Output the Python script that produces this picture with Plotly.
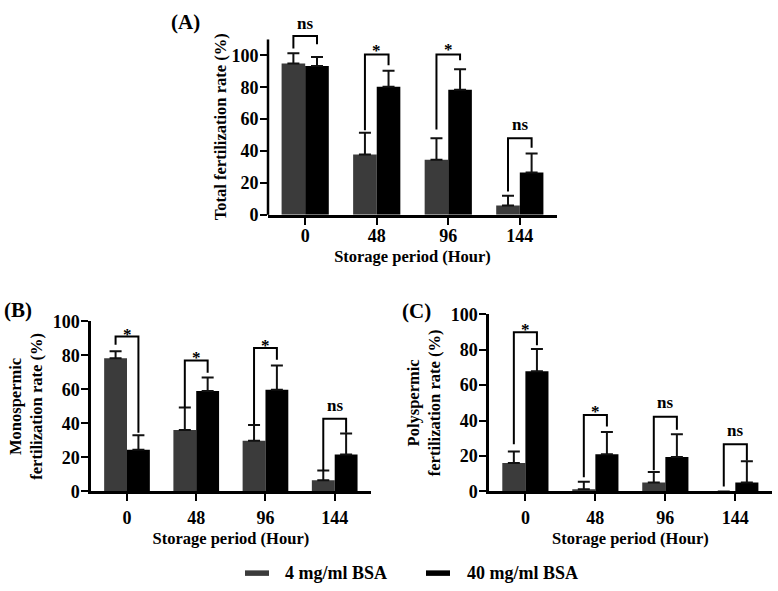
import plotly.graph_objects as go

# ---------------- data ----------------
hours = ["0", "48", "96", "144"]
series_names = ["4 mg/ml BSA", "40 mg/ml BSA"]

A_low_mean = [94.9, 37.8, 34.5, 5.9]
A_low_err = [6.5, 13.7, 13.6, 6.0]
A_high_mean = [93.3, 80.4, 78.4, 26.5]
A_high_err = [5.7, 9.9, 12.9, 11.9]

B_low_mean = [78.3, 36.2, 29.8, 6.6]
B_low_err = [4.2, 13.2, 9.2, 5.7]
B_high_mean = [24.5, 59.1, 59.8, 21.7]
B_high_err = [8.5, 7.9, 14.2, 12.3]

C_low_mean = [16.1, 1.3, 5.0, 0.0]
C_low_err = [6.5, 4.2, 6.0, 0.0]
C_high_mean = [67.9, 21.0, 19.5, 5.1]
C_high_err = [12.5, 12.5, 12.8, 12.0]

# significance brackets: label, left-leg bottom, top, right-leg bottom, label centre
A_sig = ["ns", "*", "*", "ns"]
A_br_left = [104.4, 53.1, 53.5, 14.7]
A_br_top = [112.1, 100.6, 100.6, 48.1]
A_br_right = [107.0, 93.9, 97.0, 42.0]
A_lab_y = [119.5, 106.5, 107.0, 56.2]

B_sig = ["*", "*", "*", "ns"]
B_br_left = [86.2, 49.4, 39.5, 12.3]
B_br_top = [91.1, 77.0, 84.3, 42.8]
B_br_right = [34.5, 69.8, 77.4, 34.5]
B_lab_y = [95.3, 81.7, 88.7, 50.0]

C_sig = ["*", "*", "ns", "ns"]
C_br_left = [26.6, 8.0, 11.9, 2.8]
C_br_top = [89.9, 43.1, 42.2, 26.6]
C_br_right = [82.6, 36.7, 34.9, 17.4]
C_lab_y = [94.5, 47.7, 49.5, 33.9]

yticks = [0, 20, 40, 60, 80, 100]

# ---------------- style ----------------
W, H = 778, 591
FONT = "Liberation Serif, Times New Roman, serif"
GREY = "#3b3b3b"
BLACK = "#000000"
BARGAP = 0.34
OFF = (1 - BARGAP) / 4  # centre offset of each bar within its group
pos = list(range(len(hours)))


def clamp(v):
    return max(0.0, min(1.0, v))


def px_x(p):
    return clamp(p / W)


def px_y(p):
    return clamp(1 - p / H)


A_YMAX = 122
panels = {
    "A": dict(xa="x", ya="y", xdom=[px_x(268), px_x(557)], ydom=[px_y(212), px_y(212 - A_YMAX * 1.65)],
              yr=[0, A_YMAX], axis_top=110,
              low=(A_low_mean, A_low_err), high=(A_high_mean, A_high_err),
              sig=(A_sig, A_br_left, A_br_top, A_br_right, A_lab_y)),
    "B": dict(xa="x2", ya="y2", xdom=[px_x(91), px_x(370.7)], ydom=[px_y(498.3), px_y(322.3)],
              yr=[0, 100], axis_top=None,
              low=(B_low_mean, B_low_err), high=(B_high_mean, B_high_err),
              sig=(B_sig, B_br_left, B_br_top, B_br_right, B_lab_y)),
    "C": dict(xa="x3", ya="y3", xdom=[px_x(489), px_x(771.7)], ydom=[px_y(498.3), px_y(315)],
              yr=[0, 100], axis_top=None,
              low=(C_low_mean, C_low_err), high=(C_high_mean, C_high_err),
              sig=(C_sig, C_br_left, C_br_top, C_br_right, C_lab_y)),
}

fig = go.Figure()
shapes = []
annotations = []

for key, p in panels.items():
    for (mean, err), color, name in [(p["low"], GREY, series_names[0]), (p["high"], BLACK, series_names[1])]:
        fig.add_trace(go.Bar(
            x=pos, y=mean, name=name, marker=dict(color=color, line=dict(width=0)),
            offsetgroup=name, showlegend=False,
            error_y=dict(type="data", array=err, arrayminus=[0] * len(err), symmetric=False,
                         color="#111111", thickness=2, width=6),
            xaxis=p["xa"], yaxis=p["ya"],
        ))
    sig, bl, bt, br, ly = p["sig"]
    for i in range(len(hours)):
        xl, xr = pos[i] - OFF, pos[i] + OFF
        shapes.append(dict(
            type="path", xref=p["xa"], yref=p["ya"],
            path=f"M {xl},{bl[i]} L {xl},{bt[i]} L {xr},{bt[i]} L {xr},{br[i]}",
            line=dict(color="black", width=2),
        ))
        annotations.append(dict(
            x=pos[i], y=ly[i], xref=p["xa"], yref=p["ya"], text=sig[i], showarrow=False,
            xanchor="center", yanchor="middle", yshift=-5 if sig[i] == "*" else 1,
            font=dict(family=FONT, size=17, color="black", weight="bold"),
        ))

axis_common = dict(
    showline=True, linecolor="black", linewidth=2.5, ticks="outside", ticklen=7, tickwidth=2,
    tickcolor="black", showgrid=False, zeroline=False,
    tickfont=dict(family=FONT, size=18, color="black", weight="bold"),
)
title_font = dict(family=FONT, size=16.5, color="black", weight="bold")

layout_axes = {}
for idx, (key, p) in enumerate(panels.items()):
    sx = "" if idx == 0 else str(idx + 1)
    layout_axes["xaxis" + sx] = dict(
        axis_common, domain=p["xdom"], anchor=p["ya"], range=[-0.52, 3.52],
        tickmode="array", tickvals=pos, ticktext=hours,
        title=dict(text="Storage period (Hour)", font=title_font, standoff=6),
        ticklabelstandoff=-4 if key == "A" else 1,
    )
    ya = dict(
        axis_common, domain=p["ydom"], anchor=p["xa"], range=p["yr"],
        tickmode="array", tickvals=yticks, ticklabelstandoff=-2,
    )
    if key == "A":
        ya["showline"] = False
    elif key == "B":
        ya["title"] = dict(text="Monospermic<br>fertilization rate (%)", font=title_font, standoff=6)
    else:
        ya["title"] = dict(text="Polyspermic<br>fertilization rate (%)", font=title_font, standoff=6)
    layout_axes["yaxis" + sx] = ya

# panel A: y-axis line stops at the axis maximum (110), drawn in paper units
pa = panels["A"]
a_top = pa["ydom"][0] + (pa["axis_top"] - pa["yr"][0]) / (pa["yr"][1] - pa["yr"][0]) * (pa["ydom"][1] - pa["ydom"][0])
shapes.append(dict(type="line", xref="paper", yref="paper", x0=pa["xdom"][0], x1=pa["xdom"][0],
                   y0=pa["ydom"][0], y1=a_top, line=dict(color="black", width=2.5)))
# panel A y title (centred on the visible axis)
annotations.append(dict(x=px_x(220), y=(pa["ydom"][0] + a_top) / 2, xref="paper", yref="paper",
                        xanchor="center", yanchor="middle",
                        text="Total fertilization rate (%)", textangle=-90, showarrow=False,
                        font=title_font))

# panel letters
for txt, x, y in [("(A)", 185.7, 12.5), ("(B)", 17.5, 311), ("(C)", 416.7, 311.7)]:
    annotations.append(dict(x=px_x(x), y=px_y(y), xref="paper", yref="paper", text=txt,
                            xanchor="center", yanchor="middle",
                            showarrow=False, font=dict(family=FONT, size=21, color="black", weight="bold")))

# legend (swatch + label)
for name, color, x0, tx in [(series_names[0], GREY, 245, 283), (series_names[1], BLACK, 426, 465)]:
    shapes.append(dict(type="rect", xref="paper", yref="paper", x0=px_x(x0), x1=px_x(x0 + 24),
                       y0=px_y(585.7), y1=px_y(580), fillcolor=color, line=dict(width=0)))
    annotations.append(dict(x=px_x(tx), y=px_y(582.5), xref="paper", yref="paper", text=name,
                            xanchor="left", yanchor="middle", showarrow=False,
                            font=dict(family=FONT, size=18, color="black", weight="bold")))

fig.update_layout(
    width=W, height=H, autosize=False, margin=dict(l=0, r=0, t=0, b=0),
    paper_bgcolor="white", plot_bgcolor="white",
    barmode="group", bargap=BARGAP, bargroupgap=0,
    font=dict(family=FONT, color="black"),
    shapes=shapes, annotations=annotations, showlegend=False,
    **layout_axes,
)

fig.write_html(
    "out.html",
    config={"displayModeBar": False},
    post_script="document.body.style.margin='0';document.body.style.overflow='hidden';",
)
